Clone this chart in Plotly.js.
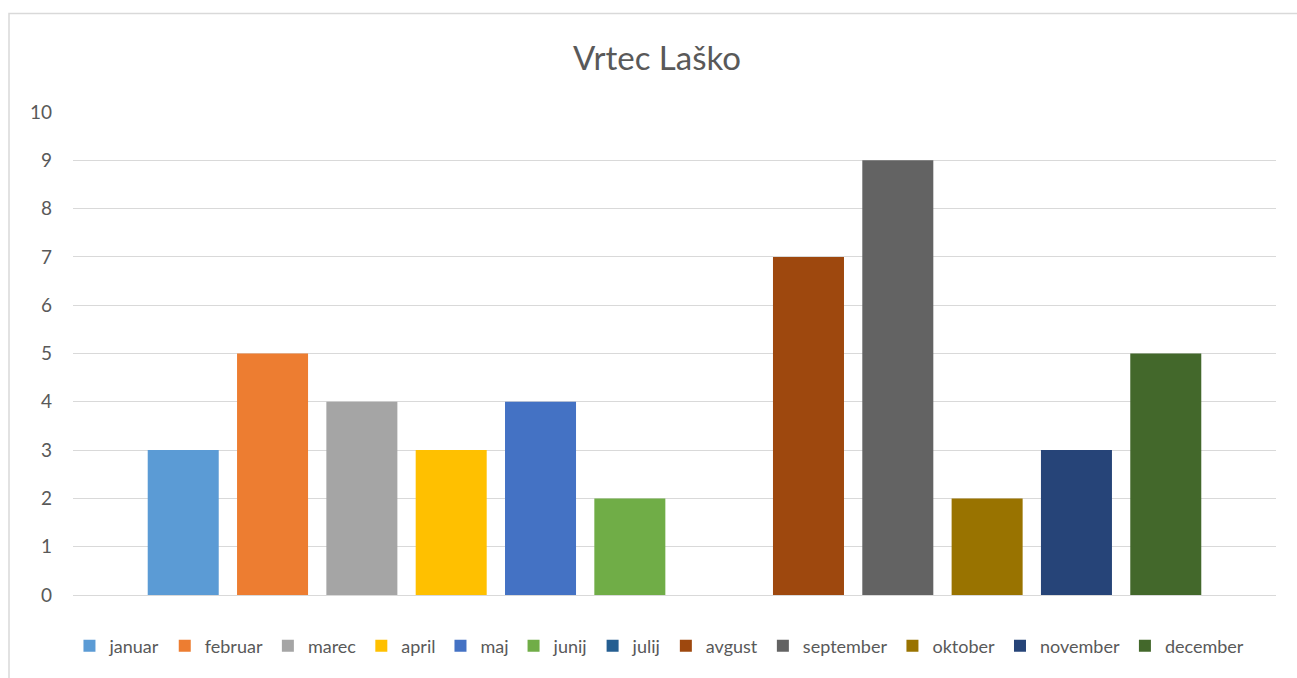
<!DOCTYPE html>
<html><head><meta charset="utf-8">
<script src="https://cdn.plot.ly/plotly-3.0.1.min.js"></script>
<style>html,body{margin:0;padding:0;background:#fff;}#chart{width:1297px;height:678px;}</style>
</head><body><div id="chart"></div>
<script>
const months = ['januar','februar','marec','april','maj','junij','julij','avgust','september','oktober','november','december'];
const values = [3,5,4,3,4,2,0,7,9,2,3,5];
const colors = ['#5B9BD5','#ED7D31','#A5A5A5','#FFC000','#4472C4','#70AD47','#255E91','#9E480E','#636363','#997300','#264478','#43682B'];
const category = [''];
const yTicks = [0,1,2,3,4,5,6,7,8,9,10];
const chartTitle = 'Vrtec Laško';

const font = 'Lato, "Open Sans", "Liberation Sans", sans-serif';
const traces = months.map((m,i)=>({
  type:'bar', name:m, x:category, y:[values[i]],
  marker:{color:colors[i]}, hoverinfo:'name+y'
}));
const layout = {
  width:1297, height:678,
  margin:{l:73, r:21, t:112, b:83, autoexpand:false},
  paper_bgcolor:'#fff', plot_bgcolor:'#fff',
  font:{family:font, color:'#595959', size:16},
  title:{text:chartTitle, font:{family:font, size:33, color:'#595959'}, xref:'container', x:657/1297, xanchor:'center', yref:'container', y:1-58/678, yanchor:'middle'},
  barmode:'group', bargap:0.109, bargroupgap:0.205,
  xaxis:{showticklabels:false, showgrid:false, zeroline:false, showline:false, ticks:''},
  yaxis:{range:[0,10], tickvals:yTicks, showgrid:true, gridcolor:'#d9d9d9', gridwidth:1,
         zeroline:true, zerolinecolor:'#d9d9d9', zerolinewidth:1, showline:false, ticks:'',
         ticklabelstandoff:20, tickfont:{size:19, color:'#595959'}},
  showlegend:true,
  legend:{orientation:'h', x:0.4875, xanchor:'center', yref:'container', y:1-646/678, yanchor:'middle',
          font:{size:18, color:'#595959'}, itemwidth:20, tracegroupgap:0, itemclick:false},
  shapes:[{type:'rect', xref:'paper', yref:'paper', x0:(9-73)/1203, x1:1.2, y0:-0.5, y1:1+(112-13.5)/483,
           line:{color:'#d9d9d9', width:1.5}, fillcolor:'rgba(0,0,0,0)', layer:'below'}]
};
Plotly.newPlot('chart', traces, layout, {displayModeBar:false, staticPlot:true});
</script></body></html>
